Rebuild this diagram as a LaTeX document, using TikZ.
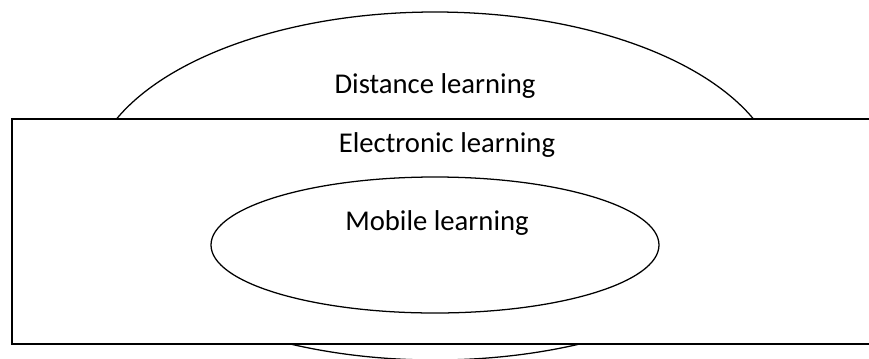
\documentclass[tikz,border=0pt]{standalone}
\usepackage{fontspec}
\setmainfont{Carlito}
\usetikzlibrary{shapes.geometric}
\begin{document}
\begin{tikzpicture}[x=0.75pt,y=-0.75pt,
  shapeline/.style={draw=black, line width=0.95pt, fill=white, inner sep=0pt},
  lbl/.style={font=\fontsize{21.5}{24}\selectfont, inner sep=0pt, anchor=base}]
\useasboundingbox (0,0) rectangle (869,358);
\clip (0,0) rectangle (869,358);
\node[ellipse, shapeline, minimum width=517.5pt, minimum height=261pt] (dist) at (435,186) {};
\node[rectangle, shapeline, line width=1.2pt, anchor=north west, minimum width=651.75pt, minimum height=168.75pt] (elec) at (11,118) {};
\node[ellipse, shapeline, minimum width=336pt, minimum height=102pt] (mob) at (435,245) {};
\node[lbl] (distlbl) at (435,93) {Distance learning};
\node[lbl] (eleclbl) at (447,152) {Electronic learning};
\node[lbl] (moblbl) at (437,230) {Mobile learning};
\end{tikzpicture}
\end{document}
